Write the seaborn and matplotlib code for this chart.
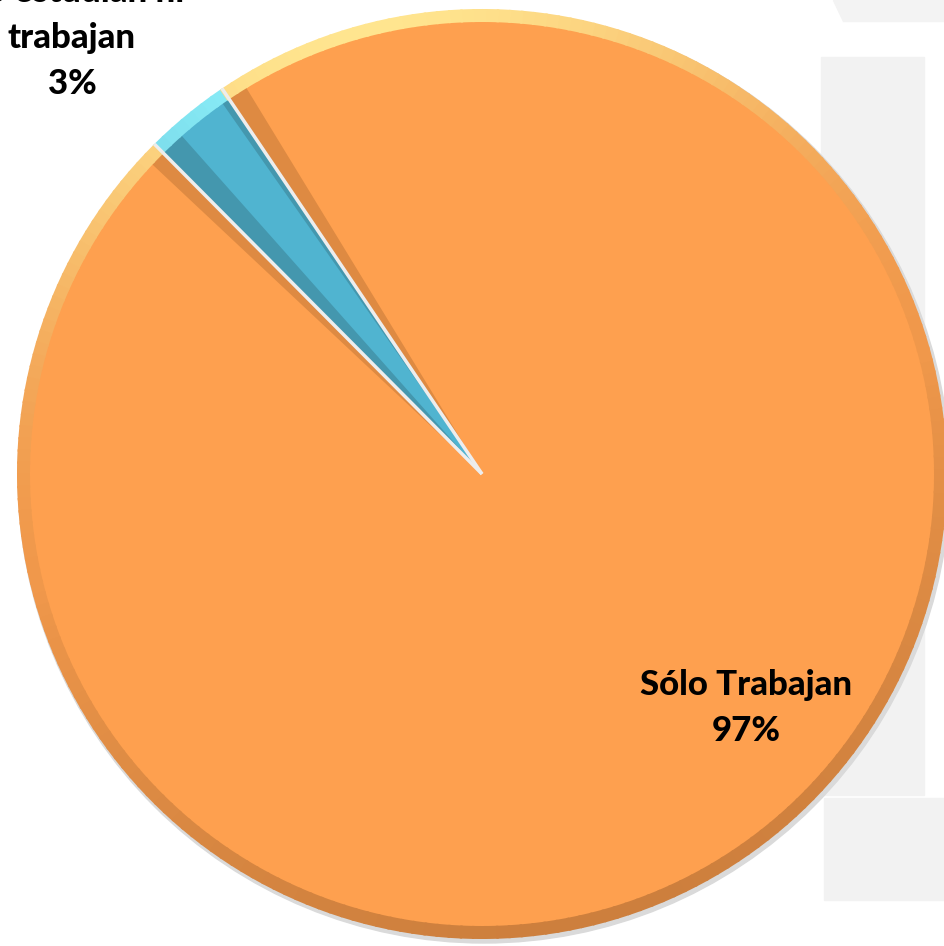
import numpy as np
import matplotlib
matplotlib.use("Agg")
import matplotlib.pyplot as plt
import matplotlib.patches as mpatches
from matplotlib.colors import to_rgb
import seaborn as sns

# Data
categories = ["No estudian ni\ntrabajan", "Sólo Trabajan"]
shares = [3, 97]
pct_labels = ["3%", "97%"]

# Colours: fill, rim highlight, rim mid, rim shadow
FILL = ["#50B4D0", "#FEA04F"]
RIM_LIGHT = ["#8EF2FC", "#FFE58F"]
RIM_MID = ["#4AA3BD", "#F0984B"]
RIM_DARK = ["#3C8599", "#CD7F3D"]
BEVEL = ["#4497AE", "#DE8A42"]

W, H = 944, 946
CX, CY = 482, 472
R = 465
RIM = 13

sns.set_theme(style="white")
plt.rcParams["font.family"] = ["Lato", "DejaVu Sans"]

fig = plt.figure(figsize=(W / 100, H / 100), dpi=100)
ax = fig.add_axes([0, 0, 1, 1])

# light grey watermark blocks behind the chart
ax.add_patch(mpatches.Rectangle((821, H - 795), 103, 795 - 57, color="#F2F2F2", zorder=0))
ax.add_patch(mpatches.Rectangle((824, H - 900), 120, 102, color="#F2F2F2", zorder=0))
ax.add_patch(mpatches.Polygon([(833, H), (944, H), (944, H - 21), (843, H - 21)],
                              closed=True, color="#F3F3F3", zorder=0))

# soft shadow
ax.add_patch(mpatches.Circle((CX + 2, CY - 3), R + 1, color="#DADADA", zorder=1))

# main pie (inner face)
wedges, _ = ax.pie(shares, colors=FILL, startangle=124, counterclock=True,
                   center=(CX, CY), radius=R - RIM + 1, frame=True,
                   wedgeprops=dict(linewidth=0, zorder=3))

# rim: gradient lit from the top-left
for i, w in enumerate(wedges):
    t1, t2 = w.theta1, w.theta2
    angles = np.linspace(t1, t2, max(int((t2 - t1) / 1.5), 2) + 1)
    for a0, a1 in zip(angles[:-1], angles[1:]):
        c = np.cos(np.radians((a0 + a1) / 2 - 105))
        mid = np.array(to_rgb(RIM_MID[i]))
        if c > 0:
            col = mid + (np.array(to_rgb(RIM_LIGHT[i])) - mid) * c ** 2
        else:
            col = mid + (np.array(to_rgb(RIM_DARK[i])) - mid) * (-c) ** 0.8
        ax.add_patch(mpatches.Wedge((CX, CY), R, a0, a1 + 0.3, width=RIM,
                                    color=col, linewidth=0, zorder=4))

# bevel bands: dark orange either side of the small slice, darker blue on its edges
small = wedges[0]
r_in = R - RIM + 1
ax.add_patch(mpatches.Wedge((CX, CY), r_in, small.theta1 - 2.6, small.theta2 + 2.0,
                            color=BEVEL[1], linewidth=0, zorder=3.2))
ax.add_patch(mpatches.Wedge((CX, CY), r_in, small.theta1, small.theta2,
                            color=FILL[0], linewidth=0, zorder=3.4))
ax.add_patch(mpatches.Wedge((CX, CY), r_in, small.theta2 - 3.2, small.theta2,
                            color=BEVEL[0], linewidth=0, zorder=3.5))
ax.add_patch(mpatches.Wedge((CX, CY), r_in, small.theta1, small.theta1 + 1.0,
                            color=BEVEL[0], linewidth=0, zorder=3.5))

# white separators between slices
for th in (small.theta1, small.theta2):
    ax.plot([CX, CX + R * np.cos(np.radians(th))], [CY, CY + R * np.sin(np.radians(th))],
            color="#EDEDED", linewidth=2.5, solid_capstyle="butt", zorder=5)

# data labels
ax.text(72, H - 38, f"{categories[0]}\n{pct_labels[0]}", ha="center", va="center",
        fontsize=25, fontweight="black", color="black", linespacing=1.52, zorder=6)
ax.text(746, H - 708, f"{categories[1]}\n{pct_labels[1]}", ha="center", va="center",
        fontsize=25, fontweight="black", color="black", linespacing=1.52, zorder=6)

ax.set_xlim(0, W)
ax.set_ylim(0, H)
ax.set_aspect("equal")
ax.axis("off")

plt.savefig("out.png", dpi=100, facecolor="white")
plt.close()
